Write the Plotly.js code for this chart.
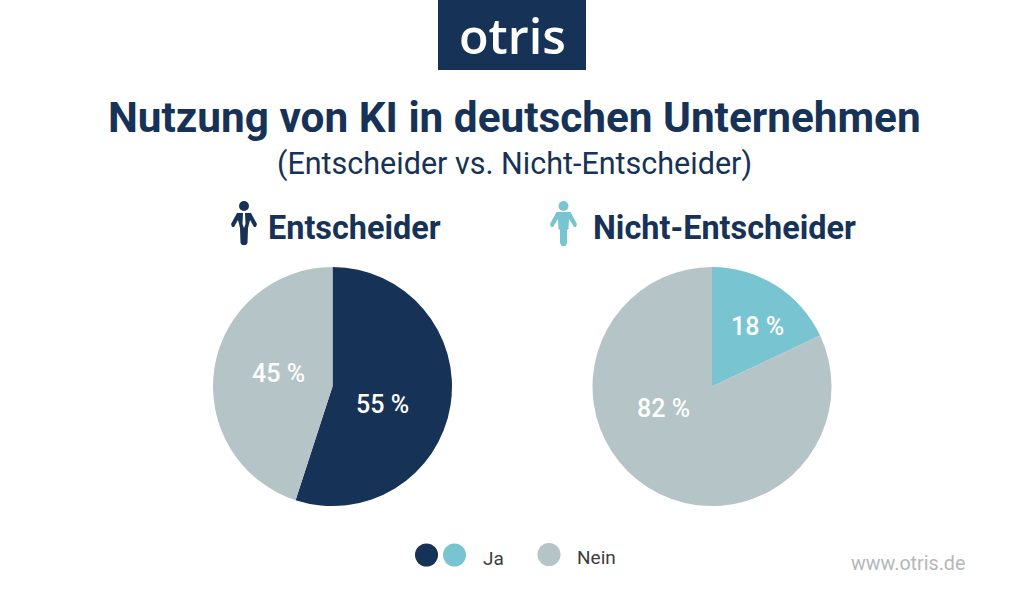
<!DOCTYPE html>
<html><head><meta charset="utf-8">
<script src="https://cdn.plot.ly/plotly-3.0.0.min.js"></script>
<style>html,body{margin:0;padding:0;background:#fff}#c{width:1024px;height:608px}</style>
</head><body><div id="c"></div>
<script>
const categories = ['Ja', 'Nein'];
const entscheiderValues = [55, 45];
const nichtEntscheiderValues = [18, 82];
const entscheiderLabels = ['55 %', '45 %'];
const nichtEntscheiderLabels = ['18 %', '82 %'];
const navy = '#163256', teal = '#78c5d1', grey = '#b5c4c6', W = 1024, H = 608;
const px = x => x / W, py = y => 1 - y / H;
function pie(values, colors, x0, x1) {
  return {type:'pie', labels:categories, values, textinfo:'none', sort:false, direction:'clockwise', rotation:0,
    marker:{colors, line:{width:0}}, hoverinfo:'label+percent',
    domain:{x:[px(x0), px(x1)], y:[py(506), py(267)]}, showlegend:false};
}
const data = [
  pie(entscheiderValues, [navy, grey], 213, 452),
  pie(nichtEntscheiderValues, [teal, grey], 592.5, 831.5)
];
function txt(text, x, y, size, color, weight, family) {
  return {text, x:px(x), y:py(y), xref:'paper', yref:'paper', xanchor:'center', yanchor:'middle', showarrow:false,
    font:{family:family||'Roboto', size, color, weight:weight||400}};
}
function dot(cx, cy, r, color) {
  return {type:'circle', xref:'paper', yref:'paper', x0:px(cx-r), x1:px(cx+r), y0:py(cy+r), y1:py(cy-r), fillcolor:color, line:{width:0}};
}
function poly(points, color) {
  return {type:'path', xref:'paper', yref:'paper', path:'M' + points.map(p => px(p[0]) + ',' + py(p[1])).join(' L') + ' Z', fillcolor:color, line:{width:0}};
}
const shapes = [
  {type:'rect', xref:'paper', yref:'paper', x0:px(438), x1:px(586), y0:py(70), y1:py(0), fillcolor:navy, line:{width:0}},
  dot(426.5, 555, 11.5, navy), dot(454.5, 555, 11.5, teal), dot(549, 554.5, 11.5, grey),
  // business figure
  dot(244, 206, 5, navy),
  poly([[237,213],[251,213],[257,224],[256,227],[254,227],[250,220],[248,228],[247.5,243],[246,245],[242,245],[240.5,243],[240,228],[238,220],[234,227],[232,227],[231,224]], navy),
  poly([[243,213],[245,213],[245.5,224],[244,228],[242.5,224]], '#ffffff'),
  // plain figure
  dot(563.5, 206, 5, teal),
  poly([[556.5,212],[570.5,212],[577,224],[576,227],[574,227],[569,219],[568.5,229],[567,230],[567,243],[565.5,246],[561.5,246],[560,243],[560,230],[558.5,229],[558,219],[553,227],[551,227],[550,224]], teal)
];
const annotations = [
  txt('otris', 512, 35, 48.5, '#ffffff', 600, 'Open Sans'),
  txt('Nutzung von KI in deutschen Unternehmen', 514.5, 117, 42.3, navy, 700),
  txt('(Entscheider vs. Nicht-Entscheider)', 514.5, 164, 30.5, navy, 400),
  txt('Entscheider', 354, 228, 32.4, navy, 700),
  txt('Nicht-Entscheider', 724.5, 228, 32.4, navy, 700),
  txt(entscheiderLabels[0], 382, 405, 25, '#ffffff', 500),
  txt(entscheiderLabels[1], 278.5, 373, 25, '#ffffff', 500),
  txt(nichtEntscheiderLabels[0], 757, 326, 25, '#ffffff', 500),
  txt(nichtEntscheiderLabels[1], 663.5, 408, 25, '#ffffff', 500),
  txt(categories[0], 493, 558, 19, '#3c3c3c'),
  txt(categories[1], 596, 557, 19, '#3c3c3c'),
  txt('www.otris.de', 908, 563, 19.7, '#b4b8b8')
];
Plotly.newPlot('c', data, {width:W, height:H, margin:{l:0,r:0,t:0,b:0}, paper_bgcolor:'#fff', shapes, annotations}, {displayModeBar:false});
</script></body></html>
